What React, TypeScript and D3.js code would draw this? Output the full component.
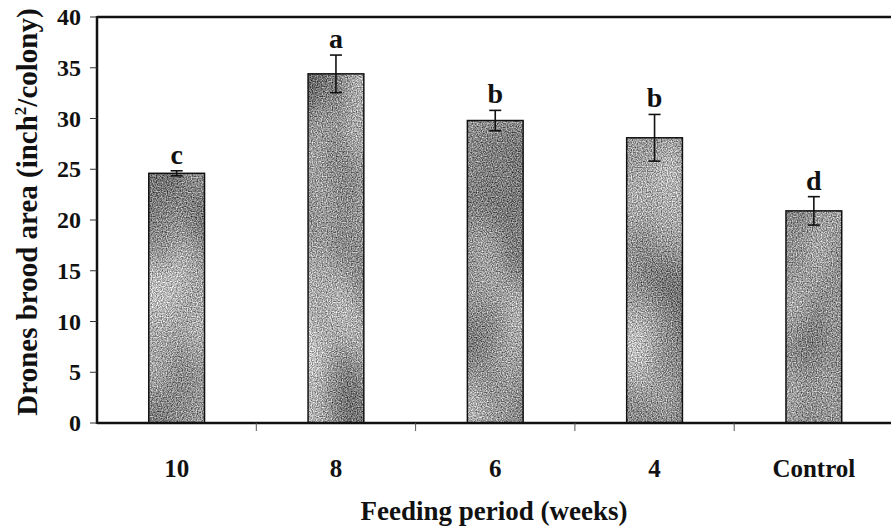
import * as d3 from "d3";

const width = 891;
const height = 529;

const categories = ["10", "8", "6", "4", "Control"];
const means = [24.6, 34.4, 29.8, 28.1, 20.9];
const errors = [0.25, 1.85, 1.0, 2.3, 1.4];
const letters = ["c", "a", "b", "b", "d"];
const yTicks = [0, 5, 10, 15, 20, 25, 30, 35, 40];

const margin = { left: 97, top: 17, bottom: 106 };
const font = "'Liberation Serif', 'Times New Roman', serif";

const App = () => {
  const x = d3
    .scaleBand<string>()
    .domain(categories)
    .range([margin.left, margin.left + 159.3 * 5])
    .paddingInner(0.65)
    .paddingOuter(0.325);

  const y = d3
    .scaleLinear()
    .domain([0, 40])
    .range([height - margin.bottom, margin.top]);

  const step = x.step();
  const y0 = y(0);

  return (
    <svg
      width={width}
      height={height}
      style={{ position: "absolute", left: 0, top: 0, background: "white" }}
      fontFamily={font}
      fontWeight="bold"
    >
      <defs>
        {categories.map((c, i) => (
          <filter
            key={c}
            id={`grain${i}`}
            colorInterpolationFilters="sRGB"
            x="0"
            y="0"
            width="100%"
            height="100%"
          >
            <feTurbulence type="fractalNoise" baseFrequency="0.8" numOctaves="1" seed={i * 3 + 1} result="fine" />
            <feColorMatrix in="fine" type="matrix" values="1 0 0 0 0  1 0 0 0 0  1 0 0 0 0  0 0 0 0 1" result="fineG" />
            <feTurbulence type="fractalNoise" baseFrequency="0.015 0.008" numOctaves="2" seed={i * 7 + 5} result="coarse" />
            <feColorMatrix in="coarse" type="matrix" values="1 0 0 0 0  1 0 0 0 0  1 0 0 0 0  0 0 0 0 1" result="coarseG" />
            <feComposite in="fineG" in2="coarseG" operator="arithmetic" k1="0" k2="1.15" k3="0.55" k4="-0.27" result="mix" />
            <feComposite in="mix" in2="SourceGraphic" operator="in" />
          </filter>
        ))}
      </defs>

      {/* bars */}
      {categories.map((c, i) => (
        <g key={c}>
          <rect
            x={x(c)}
            y={y(means[i])}
            width={x.bandwidth()}
            height={y0 - y(means[i])}
            fill="#888"
            filter={`url(#grain${i})`}
          />
          <rect
            x={x(c)}
            y={y(means[i])}
            width={x.bandwidth()}
            height={y0 - y(means[i])}
            fill="none"
            stroke="#111"
            strokeWidth={1.5}
          />
        </g>
      ))}

      {/* error bars + letters */}
      {categories.map((c, i) => {
        const cx = (x(c) ?? 0) + x.bandwidth() / 2;
        const hi = y(means[i] + errors[i]);
        const lo = y(means[i] - errors[i]);
        return (
          <g key={c} stroke="#111" strokeWidth={1.6}>
            <line x1={cx} x2={cx} y1={hi} y2={lo} />
            <line x1={cx - 6} x2={cx + 6} y1={hi} y2={hi} />
            <line x1={cx - 6} x2={cx + 6} y1={lo} y2={lo} />
            <text x={cx} y={hi - 7} textAnchor="middle" fontSize={28} stroke="none" fill="#111">
              {letters[i]}
            </text>
          </g>
        );
      })}

      {/* frame */}
      <line x1={margin.left} x2={width} y1={margin.top} y2={margin.top} stroke="#111" strokeWidth={2.5} />
      <line x1={margin.left} x2={margin.left} y1={margin.top - 1} y2={y0 + 1} stroke="#111" strokeWidth={2.5} />
      <line x1={margin.left} x2={width} y1={y0} y2={y0} stroke="#111" strokeWidth={2.5} />

      {/* y axis */}
      {yTicks.map((t) => (
        <g key={t}>
          <line x1={margin.left - 7} x2={margin.left} y1={y(t)} y2={y(t)} stroke="#333" strokeWidth={1} />
          <text x={81} y={y(t)} dy="0.34em" textAnchor="end" fontSize={24} fill="#111">
            {t}
          </text>
        </g>
      ))}

      {/* x axis */}
      {categories.slice(1).map((c) => (
        <line
          key={c}
          x1={(x(c) ?? 0) - (step - x.bandwidth()) / 2}
          x2={(x(c) ?? 0) - (step - x.bandwidth()) / 2}
          y1={y0}
          y2={y0 + 8}
          stroke="#555"
          strokeWidth={1}
        />
      ))}
      {categories.map((c) => (
        <text
          key={c}
          x={(x(c) ?? 0) + x.bandwidth() / 2}
          y={477}
          textAnchor="middle"
          fontSize={25}
          fill="#111"
        >
          {c}
        </text>
      ))}

      <text x={494} y={520} textAnchor="middle" fontSize={27} fill="#111">
        Feeding period (weeks)
      </text>

      <text
        transform={`translate(37, 212) rotate(-90)`}
        textAnchor="middle"
        fontSize={29}
        fill="#111"
      >
        Drones brood area (inch
        <tspan fontSize={17} dy={-11}>2</tspan>
        <tspan dy={11}>/colony)</tspan>
      </text>
    </svg>
  );
};

export default App;
